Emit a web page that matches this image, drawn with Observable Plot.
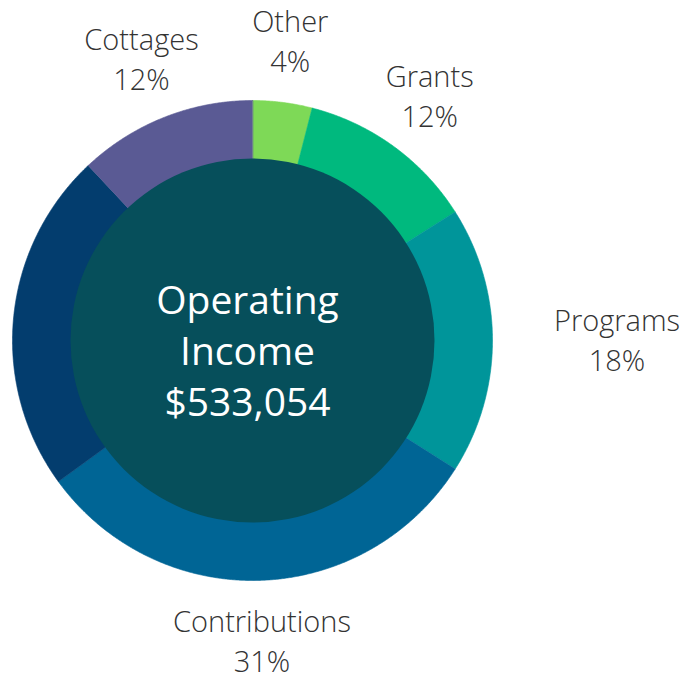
<!DOCTYPE html>
<html><head><meta charset="utf-8">
<script src="https://cdn.jsdelivr.net/npm/d3@7"></script>
<script src="https://cdn.jsdelivr.net/npm/@observablehq/plot@0.6"></script>
<style>html,body{margin:0;padding:0;background:#fff}</style>
</head><body><div id="chart"></div>
<script>
// ---- data ----
const categories = ["Other", "Grants", "Programs", "Contributions", "Unlabeled", "Cottages"];
const shares = [4, 12, 18, 31, 23, 12];
const labels = ["Other\n4%", "Grants\n12%", "Programs\n18%", "Contributions\n31%", null, "Cottages\n12%"];
const colors = ["#7ed957", "#00b97e", "#00959a", "#006595", "#033d6e", "#5a5a94"];
const centerLines = ["Operating", "Income", "$533,054"];
const holeColor = "#064f5b";

// ---- geometry ----
const W = 684, H = 677, cx = 252, cy = 340, R = 240;
const holeR = 182, labelR = 301.5;

const rows = categories.map((c, i) => ({category: c, share: shares[i], label: labels[i], color: colors[i]}));
const arcs = d3.pie().sort(null).value(d => d.share)(rows);

const wedgePts = [];
for (const a of arcs) {
  wedgePts.push({category: a.data.category, color: a.data.color, x: 0, y: 0});
  const n = Math.max(2, Math.ceil((a.endAngle - a.startAngle) / 0.005));
  for (let k = 0; k <= n; k++) {
    const t = a.startAngle + (a.endAngle - a.startAngle) * k / n;
    wedgePts.push({category: a.data.category, color: a.data.color, x: Math.sin(t), y: Math.cos(t)});
  }
}

const labelPts = arcs.filter(a => a.data.label).map(a => {
  const m = (a.startAngle + a.endAngle) / 2;
  return {text: a.data.label, x: labelR / R * Math.sin(m), y: labelR / R * Math.cos(m), side: Math.abs(Math.sin(m)) > 0.9 ? "start" : "middle"};
});

const labelStyle = {x: "x", y: "y", text: "text", textAnchor: "middle", dy: -2.5, fill: "#333", fontSize: 29, fontWeight: 300, fontFamily: "Open Sans", lineHeight: 40 / 29};

const chart = Plot.plot({
  width: W, height: H,
  margin: 0,
  x: {domain: [-cx / R, (W - cx) / R], range: [0, W], axis: null},
  y: {domain: [-(H - cy) / R, cy / R], range: [H, 0], axis: null},
  style: {background: "#fff"},
  marks: [
    Plot.line(wedgePts, {x: "x", y: "y", z: "category", fill: "color", stroke: "color", strokeWidth: 0.6, curve: "linear-closed"}),
    Plot.dot([{x: 0, y: 0}], {x: "x", y: "y", r: holeR, fill: holeColor, stroke: "none"}),
    Plot.text([{x: 0, y: 0, t: centerLines.join("\n")}], {x: "x", y: "y", text: "t", dx: -5, dy: 8, fill: "#fff", fontSize: 39, fontFamily: "Open Sans", lineHeight: 51 / 39}),
    Plot.text(labelPts.filter(d => d.side === "middle"), labelStyle),
    Plot.text(labelPts.filter(d => d.side === "start"), {...labelStyle, dx: 63})
  ]
});
document.getElementById("chart").appendChild(chart);
</script>
</body></html>
